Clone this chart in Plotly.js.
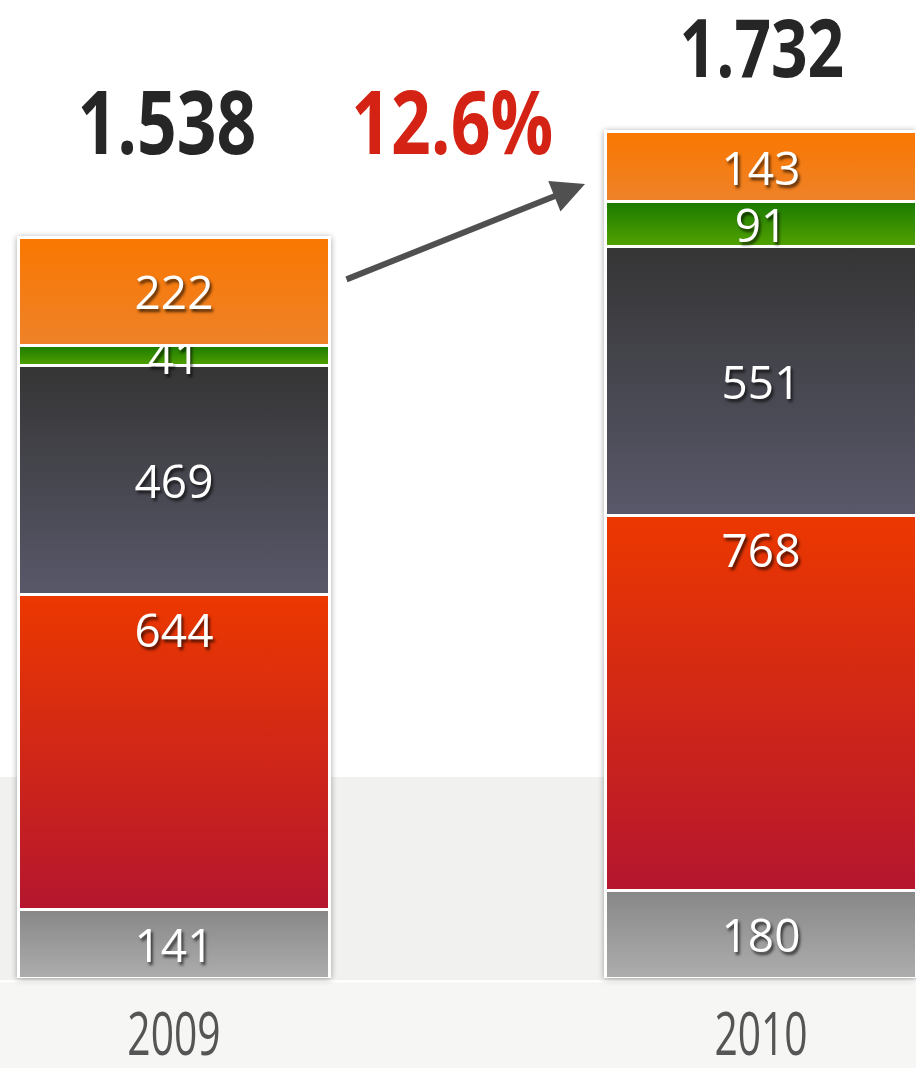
<!DOCTYPE html>
<html>
<head>
<meta charset="utf-8">
<script src="https://cdn.plot.ly/plotly-3.0.1.min.js"></script>
<style>
html,body{margin:0;padding:0;background:#fff;}
#chart{width:916px;height:1068px;}
#chart .barlayer { filter: drop-shadow(0px 1px 3px rgba(0,0,0,0.35)); }
</style>
</head>
<body>
<div id="chart"></div>
<script>
// ---- data ----
const years = ["2009", "2010"];
const segGray   = [141, 180];
const segRed    = [644, 768];
const segDark   = [469, 551];
const segGreen  = [41, 91];
const segOrange = [222, 143];
const totalLabels = ["1.538", "1.732"];
const growthLabel = "12.6%";

const series = [
  {name: "gray",   values: segGray,   color: "#9a9a9a", grad: ["#878787", "#adadad"], anchor: "middle"},
  {name: "red",    values: segRed,    color: "#d02820", grad: ["#ec3800", "#b5162e"], anchor: "end"},
  {name: "dark",   values: segDark,   color: "#46464f", grad: ["#353535", "#58586a"], anchor: "middle"},
  {name: "green",  values: segGreen,  color: "#38900a", grad: ["#1a7a00", "#52a200"], anchor: "middle"},
  {name: "orange", values: segOrange, color: "#f47d18", grad: ["#fa7700", "#ee8229"], anchor: "middle"}
];

const labelFont = {family: "Open Sans, Lato, sans-serif", size: 46, color: "#ffffff",
                   shadow: "2px 3px 3px rgba(0,0,0,0.65)"};

const traces = series.map(s => ({
  type: "bar",
  name: s.name,
  x: years,
  y: s.values,
  text: s.values.map(String),
  textposition: "inside",
  insidetextanchor: s.anchor,
  constraintext: "none",
  textangle: 0,
  textfont: labelFont,
  width: 0.531,
  marker: {color: s.color, line: {color: "#ffffff", width: 3}},
  hoverinfo: "skip",
  cliponaxis: false
}));

const fam = "Open Sans, Noto Sans, sans-serif";

const layout = {
  width: 916, height: 1068,
  margin: {l: 0, r: 0, t: 0, b: 90},
  barmode: "stack",
  showlegend: false,
  paper_bgcolor: "#ffffff",
  plot_bgcolor: "rgba(0,0,0,0)",
  xaxis: {
    type: "category",
    range: [-0.2964, 1.264],
    showgrid: false, zeroline: false, showline: false, ticks: "",
    tickfont: {family: fam, size: 60, color: "#555555"},
    ticklabelstandoff: 16,
    fixedrange: true
  },
  yaxis: {
    range: [0, 2003],
    visible: false,
    showgrid: false, zeroline: false,
    fixedrange: true
  },
  shapes: [
    {type: "rect", xref: "paper", yref: "paper", x0: 0, x1: 1, y0: -0.002, y1: 0.2055,
     fillcolor: "#f1f1ef", line: {width: 0}, layer: "below"},
    {type: "rect", xref: "paper", yref: "paper", x0: 0, x1: 1, y0: -0.0925, y1: -0.0045,
     fillcolor: "#f6f6f4", line: {width: 0}, layer: "below"}
  ],
  annotations: [
    {text: totalLabels[0], xref: "paper", yref: "paper", x: 167/916, y: (978-120)/978,
     xanchor: "center", yanchor: "middle", showarrow: false,
     font: {family: fam, size: 87, color: "#262626", weight: "bold"}},
    {text: totalLabels[1], xref: "paper", yref: "paper", x: 762/916, y: (978-46)/978,
     xanchor: "center", yanchor: "middle", showarrow: false,
     font: {family: fam, size: 80, color: "#262626", weight: "bold"}},
    {text: growthLabel, xref: "paper", yref: "paper", x: 452/916, y: (978-120)/978,
     xanchor: "center", yanchor: "middle", showarrow: false,
     font: {family: fam, size: 87, color: "#d42314", weight: "bold"}},
    {text: "", xref: "paper", yref: "paper", x: 585/916, y: (978-184)/978,
     ax: -240, ay: 96, showarrow: true, arrowhead: 2, arrowsize: 1.1, arrowwidth: 6,
     arrowcolor: "#505050"}
  ]
};

function squeeze(el, sx) {
  const bb = el.getBBox();
  const cx = bb.x + bb.width / 2;
  const prev = el.getAttribute("transform") || "";
  el.setAttribute("transform", prev + " translate(" + cx + ",0) scale(" + sx + ",1) translate(" + (-cx) + ",0)");
}

const gd = document.getElementById("chart");
Plotly.newPlot(gd, traces, layout, {staticPlot: true, displayModeBar: false}).then(() => {
  const svg = gd.querySelector("svg.main-svg");
  const NS = "http://www.w3.org/2000/svg";
  let defs = svg.querySelector("defs");
  if (!defs) { defs = document.createElementNS(NS, "defs"); svg.insertBefore(defs, svg.firstChild); }
  series.forEach((s, i) => {
    const lg = document.createElementNS(NS, "linearGradient");
    lg.setAttribute("id", "bargrad" + i);
    lg.setAttribute("x1", "0"); lg.setAttribute("y1", "0");
    lg.setAttribute("x2", "0"); lg.setAttribute("y2", "1");
    [[0, s.grad[0]], [1, s.grad[1]]].forEach(([o, c]) => {
      const st = document.createElementNS(NS, "stop");
      st.setAttribute("offset", o);
      st.setAttribute("stop-color", c);
      lg.appendChild(st);
    });
    defs.appendChild(lg);
  });
  gd.querySelectorAll(".barlayer .trace").forEach((g, i) => {
    g.querySelectorAll(".point path").forEach(p => {
      p.style.fill = "url(#bargrad" + i + ")";
    });
  });
  // condensed look for totals and year labels
  gd.querySelectorAll(".annotation-text").forEach(t => { if (t.textContent) squeeze(t, 0.8); });
  gd.querySelectorAll(".xtick text").forEach(t => squeeze(t, 0.68));
});
</script>
</body>
</html>
